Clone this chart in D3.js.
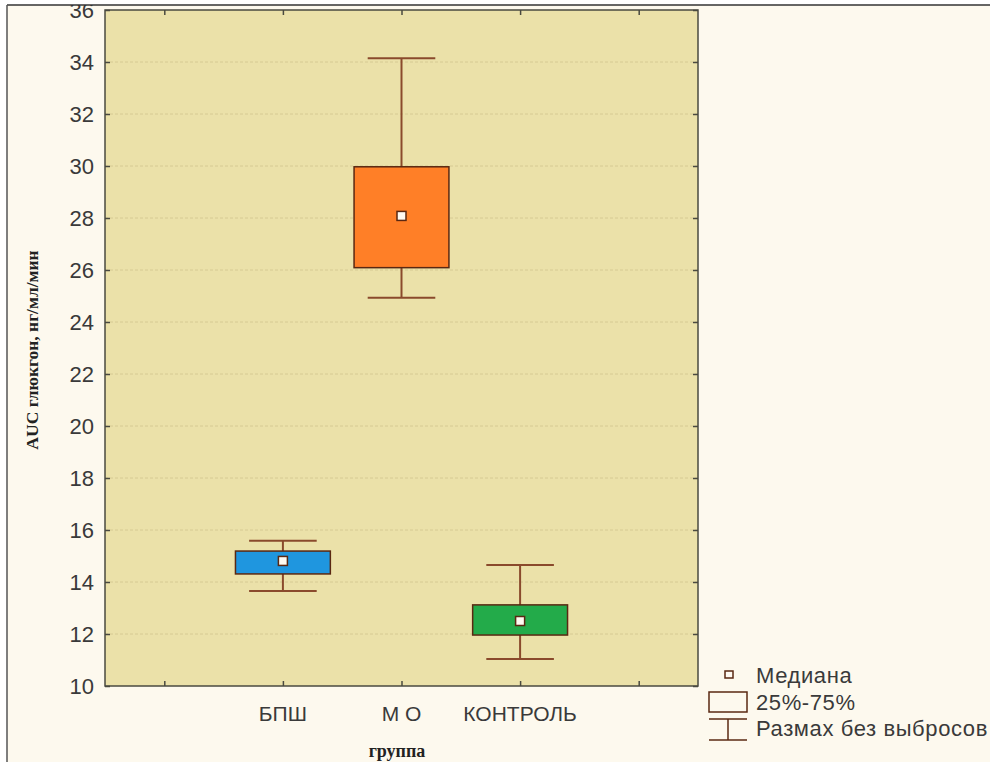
<!DOCTYPE html>
<html>
<head>
<meta charset="utf-8">
<script src="https://cdn.jsdelivr.net/npm/d3@7"></script>
<style>
    html, body { margin: 0; padding: 0; background: #ffffff; }
    svg { display: block; }
</style>
</head>
<body>
<svg width="990" height="762"></svg>
<script>
// данные
const groups = ["БПШ", "М О", "КОНТРОЛЬ"];
const groupPos = [2, 3, 4];
const whiskerLow = [13.65, 24.93, 11.04];
const q1 = [14.31, 26.09, 11.96];
const medians = [14.81, 28.08, 12.5];
const q3 = [15.19, 29.97, 13.12];
const whiskerHigh = [15.59, 34.14, 14.65];
const boxColors = ["#1f96df", "#ff7f27", "#23ab4a"];
const yTicks = [10, 12, 14, 16, 18, 20, 22, 24, 26, 28, 30, 32, 34, 36];
const xTicks = [1, 2, 3, 4, 5];
const legendItems = ["Медиана", "25%-75%", "Размах без выбросов"];

window.onload = main;

function main() {
    var svg = d3.select("svg");

    var margin = { left: 105, right: 292, top: 10, bottom: 76 };
    var width = 990, height = 762;

    var x = d3.scaleLinear().domain([0.5, 5.5]).range([margin.left, width - margin.right]);
    var y = d3.scaleLinear().domain([10, 36]).range([height - margin.bottom, margin.top]);

    var sans = "'Liberation Sans', Arial, sans-serif";
    var serif = "'Liberation Serif', 'Times New Roman', serif";

    // фон
    svg.append("rect")
        .attr("x", 7).attr("y", 5)
        .attr("width", width - 7).attr("height", height - 5)
        .attr("fill", "#fdf9ee");

    svg.append("rect")
        .attr("x", x.range()[0]).attr("y", y.range()[1])
        .attr("width", x.range()[1] - x.range()[0])
        .attr("height", y.range()[0] - y.range()[1])
        .attr("fill", "#ebe1a9");

    // сетка
    svg.append("g")
        .selectAll("line")
        .data(yTicks.slice(1, -1))
        .enter()
        .append("line")
        .attr("x1", x.range()[0]).attr("x2", x.range()[1])
        .attr("y1", (d) => y(d)).attr("y2", (d) => y(d))
        .style("stroke", "#d6ca93")
        .style("stroke-width", 1)
        .style("stroke-dasharray", "3,2");

    // оси (все засечки внутрь)
    var tickSize = 5;
    var axisColor = "#4a4a40";

    var axisLeft = svg.append("g")
        .attr("transform", "translate(" + x.range()[0] + ",0)")
        .call(d3.axisRight(y).tickValues(yTicks).tickSize(tickSize).tickFormat(""));
    var axisRight = svg.append("g")
        .attr("transform", "translate(" + x.range()[1] + ",0)")
        .call(d3.axisLeft(y).tickValues(yTicks).tickSize(tickSize).tickFormat(""));
    var axisBottom = svg.append("g")
        .attr("transform", "translate(0," + y.range()[0] + ")")
        .call(d3.axisTop(x).tickValues(xTicks).tickSize(tickSize).tickFormat(""));
    var axisTop = svg.append("g")
        .attr("transform", "translate(0," + y.range()[1] + ")")
        .call(d3.axisBottom(x).tickValues(xTicks).tickSize(tickSize).tickFormat(""));

    [axisLeft, axisRight, axisBottom, axisTop].forEach((a) => {
        a.select(".domain").remove();
        a.selectAll("line").style("stroke", axisColor).style("stroke-width", 1.5);
    });

    svg.append("rect")
        .attr("x", x.range()[0]).attr("y", y.range()[1])
        .attr("width", x.range()[1] - x.range()[0])
        .attr("height", y.range()[0] - y.range()[1])
        .attr("fill", "none")
        .style("stroke", axisColor)
        .style("stroke-width", 1.5);

    // подписи оси Y (верхняя "36" обрезана рамкой, как на оригинале)
    svg.append("g")
        .selectAll("text")
        .data(yTicks)
        .enter()
        .append("text")
        .attr("x", 94)
        .attr("y", (d) => y(d))
        .attr("dy", "0.36em")
        .attr("text-anchor", "end")
        .style("font-family", sans)
        .style("font-size", "22px")
        .style("fill", "#3a3a3a")
        .text((d) => d);

    // подписи групп
    svg.append("g")
        .selectAll("text")
        .data(groups)
        .enter()
        .append("text")
        .attr("x", (d, i) => x(groupPos[i]))
        .attr("y", 721)
        .attr("text-anchor", "middle")
        .style("font-family", sans)
        .style("font-size", "21px")
        .style("fill", "#3a3a3a")
        .text((d) => d);

    // названия осей
    svg.append("text")
        .attr("x", 397)
        .attr("y", 757)
        .attr("text-anchor", "middle")
        .style("font-family", serif)
        .style("font-weight", "bold")
        .style("font-size", "18px")
        .style("fill", "#222")
        .text("группа");

    svg.append("text")
        .attr("transform", "translate(38,350) rotate(-90)")
        .attr("text-anchor", "middle")
        .style("font-family", serif)
        .style("font-weight", "bold")
        .style("font-size", "17.5px")
        .style("fill", "#222")
        .text("AUC глюкгон, нг/мл/мин");

    // ящики с усами
    var boxW = 0.8, capW = 0.57;
    var whiskerColor = "#8a4a2c";
    var edgeColor = "#5a2812";

    var boxes = svg.append("g")
        .selectAll("g")
        .data(groups)
        .enter()
        .append("g");

    boxes.append("line")
        .attr("x1", (d, i) => x(groupPos[i])).attr("x2", (d, i) => x(groupPos[i]))
        .attr("y1", (d, i) => y(whiskerLow[i])).attr("y2", (d, i) => y(whiskerHigh[i]))
        .style("stroke", whiskerColor).style("stroke-width", 2);

    [whiskerLow, whiskerHigh].forEach((arr) => {
        boxes.append("line")
            .attr("x1", (d, i) => x(groupPos[i] - capW / 2))
            .attr("x2", (d, i) => x(groupPos[i] + capW / 2))
            .attr("y1", (d, i) => y(arr[i])).attr("y2", (d, i) => y(arr[i]))
            .style("stroke", whiskerColor).style("stroke-width", 2);
    });

    boxes.append("rect")
        .attr("x", (d, i) => x(groupPos[i] - boxW / 2))
        .attr("width", (d, i) => x(groupPos[i] + boxW / 2) - x(groupPos[i] - boxW / 2))
        .attr("y", (d, i) => y(q3[i]))
        .attr("height", (d, i) => y(q1[i]) - y(q3[i]))
        .attr("fill", (d, i) => boxColors[i])
        .style("stroke", edgeColor).style("stroke-width", 1.5);

    boxes.append("rect")
        .attr("x", (d, i) => x(groupPos[i]) - 4.5)
        .attr("y", (d, i) => y(medians[i]) - 4.5)
        .attr("width", 9).attr("height", 9)
        .attr("fill", "#fffaf2")
        .style("stroke", edgeColor).style("stroke-width", 1.5);

    // легенда
    var legend = svg.append("g");

    legend.append("rect")
        .attr("x", 725).attr("y", 671).attr("width", 8).attr("height", 7)
        .attr("fill", "#fffaf2")
        .style("stroke", edgeColor).style("stroke-width", 1.5);

    legend.append("rect")
        .attr("x", 709).attr("y", 692).attr("width", 38).attr("height", 20)
        .attr("fill", "none")
        .style("stroke", edgeColor).style("stroke-width", 1.5);

    legend.append("line")
        .attr("x1", 709).attr("x2", 747).attr("y1", 719).attr("y2", 719)
        .style("stroke", edgeColor).style("stroke-width", 1.5);
    legend.append("line")
        .attr("x1", 728).attr("x2", 728).attr("y1", 719).attr("y2", 740)
        .style("stroke", edgeColor).style("stroke-width", 1.5);
    legend.append("line")
        .attr("x1", 709).attr("x2", 747).attr("y1", 740).attr("y2", 740)
        .style("stroke", edgeColor).style("stroke-width", 1.5);

    var legendBaselines = [683, 710, 736];
    legend.selectAll("text")
        .data(legendItems)
        .enter()
        .append("text")
        .attr("x", 756)
        .attr("y", (d, i) => legendBaselines[i])
        .style("font-family", sans)
        .style("font-size", "22px")
        .style("letter-spacing", "0.6px")
        .style("fill", "#3a3a3a")
        .text((d) => d);

    // рамка картинки
    svg.append("rect")
        .attr("x", 0).attr("y", 0).attr("width", width).attr("height", 5)
        .attr("fill", "#ffffff");
    svg.append("line")
        .attr("x1", 7).attr("x2", width).attr("y1", 5).attr("y2", 5)
        .style("stroke", "#333").style("stroke-width", 1.5);
    svg.append("line")
        .attr("x1", 7).attr("x2", 7).attr("y1", 5).attr("y2", height)
        .style("stroke", "#555").style("stroke-width", 1.5);
}
</script>
</body>
</html>
